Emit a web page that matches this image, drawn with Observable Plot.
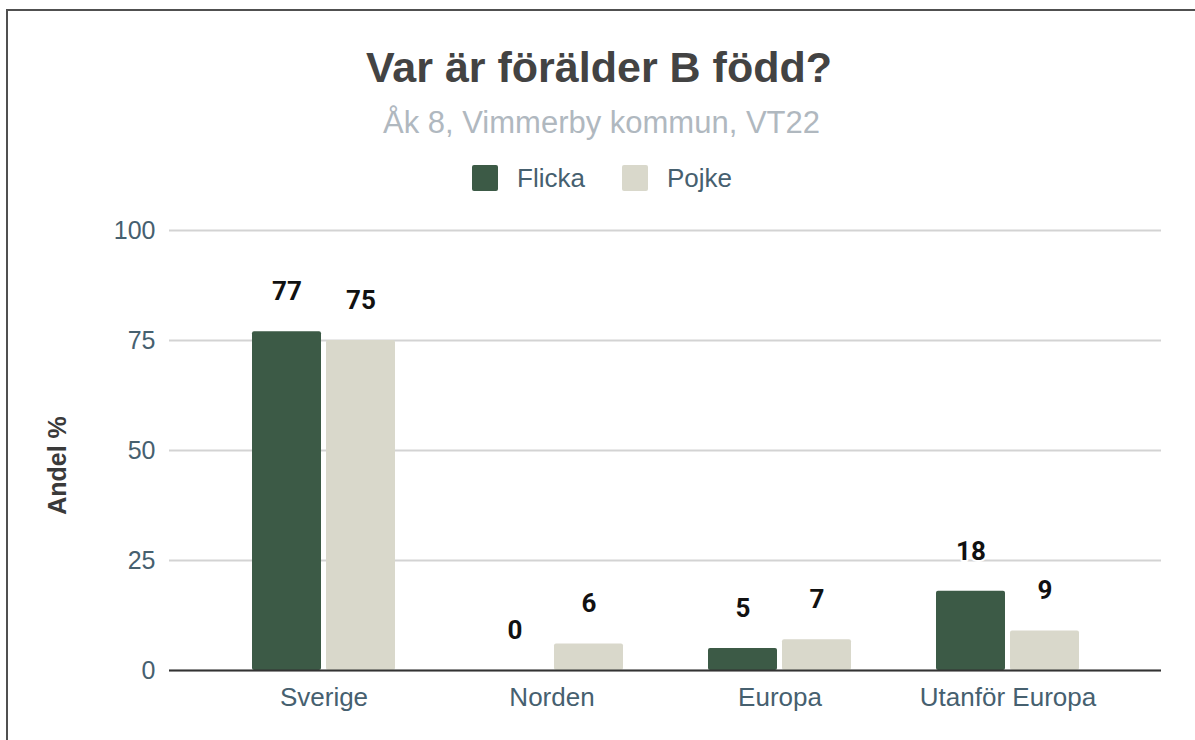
<!DOCTYPE html>
<html>
<head>
<meta charset="utf-8">
<script src="https://cdn.jsdelivr.net/npm/d3@7"></script>
<script src="https://cdn.jsdelivr.net/npm/@observablehq/plot@0.6"></script>
<style>
  html, body { margin: 0; padding: 0; background: #fff; overflow: hidden; width: 1195px; height: 740px; }
  body { position: relative; font-family: "Liberation Sans", Arial, sans-serif; }
  #frame { position: absolute; left: 6px; top: 9px; right: 0; bottom: 0; border-left: 2px solid #505050; border-top: 2px solid #505050; pointer-events: none; }
  #header { position: relative; height: 200px; }
  .title { position: absolute; left: 0; width: 1198px; top: 46px; text-align: center; font: bold 43px/1 "Liberation Sans", Arial, sans-serif; color: #434343; }
  .subtitle { position: absolute; left: 0; width: 1203px; top: 107px; text-align: center; font: 31px/1 "Liberation Sans", Arial, sans-serif; color: #b0b8bf; }
  .legend { position: absolute; left: 0; width: 1204px; top: 165px; height: 26px; display: flex; justify-content: center; align-items: center; }
  .item { display: flex; align-items: center; }
  .item + .item { margin-left: 37px; }
  .sw { width: 26px; height: 26px; border-radius: 2px; margin-right: 19px; }
  .lab { font: 26px/26px "Liberation Sans", Arial, sans-serif; color: #46606f; }
</style>
</head>
<body>
<div id="header">
  <div class="title" id="title"></div>
  <div class="subtitle" id="subtitle"></div>
  <div class="legend" id="legend"></div>
</div>
<div id="chart"></div>
<div id="frame"></div>
<script>
const titleText = "Var är förälder B född?";
const subtitleText = "Åk 8, Vimmerby kommun, VT22";
const categories = ["Sverige", "Norden", "Europa", "Utanför Europa"];
const groups = ["Flicka", "Pojke"];
const flicka = [77, 0, 5, 18];
const pojke = [75, 6, 7, 9];
const yTicks = [0, 25, 50, 75, 100];
const colors = ["#3c5a46", "#d9d8cb"];
const yLabel = "Andel %";

document.getElementById("title").textContent = titleText;
document.getElementById("subtitle").textContent = subtitleText;
const legend = document.getElementById("legend");
groups.forEach((g, i) => {
  const item = document.createElement("div");
  item.className = "item";
  const sw = document.createElement("span");
  sw.className = "sw";
  sw.style.background = colors[i];
  const lab = document.createElement("span");
  lab.className = "lab";
  lab.textContent = g;
  item.appendChild(sw);
  item.appendChild(lab);
  legend.appendChild(item);
});

const flickaData = categories.map((c, i) => ({category: c, gender: groups[0], value: flicka[i]}));
const pojkeData = categories.map((c, i) => ({category: c, gender: groups[1], value: pojke[i]}));

// bar layout within each category band (style only)
const halfInset = 74;
const halfShift = 37;
const labelStyle = {fontSize: 26, fontWeight: "bold", fontFamily: "Roboto", fill: "#111",
  stroke: "white", strokeWidth: 4, paintOrder: "stroke", dy: -40};

const chart = Plot.plot({
  width: 1195,
  height: 540,
  marginTop: 30,
  marginBottom: 70,
  marginLeft: 169,
  marginRight: 34,
  style: {fontFamily: "'Liberation Sans', Arial, sans-serif", background: "transparent"},
  x: {domain: categories, paddingInner: 0.375, paddingOuter: 0.356, label: null},
  y: {domain: [0, 100], label: null},
  color: {domain: groups, range: colors},
  marks: [
    Plot.gridY(yTicks, {stroke: "#d3d3d3", strokeOpacity: 1, strokeWidth: 2}),
    Plot.axisY(yTicks, {tickSize: 0, tickPadding: 14, fontSize: 25, fill: "#46606f", label: null}),
    Plot.barY(flickaData, {x: "category", y: "value", fill: "gender", rx: 2, insetRight: halfInset}),
    Plot.barY(pojkeData, {x: "category", y: "value", fill: "gender", rx: 2, insetLeft: halfInset}),
    Plot.ruleY([0], {stroke: "#333", strokeWidth: 2}),
    Plot.text(flickaData, {x: "category", y: "value", text: d => String(d.value), dx: -halfShift, ...labelStyle}),
    Plot.text(pojkeData, {x: "category", y: "value", text: d => String(d.value), dx: halfShift, ...labelStyle}),
    Plot.axisX({anchor: "bottom", tickSize: 0, tickPadding: 17, fontSize: 26, fill: "#46606f", label: null}),
    Plot.text([yLabel], {frameAnchor: "left", rotate: -90, dx: -112, dy: 15, textAnchor: "middle",
      fontSize: 25, fontWeight: "bold", fill: "#3a3a3a"})
  ]
});
document.getElementById("chart").appendChild(chart);
</script>
</body>
</html>
